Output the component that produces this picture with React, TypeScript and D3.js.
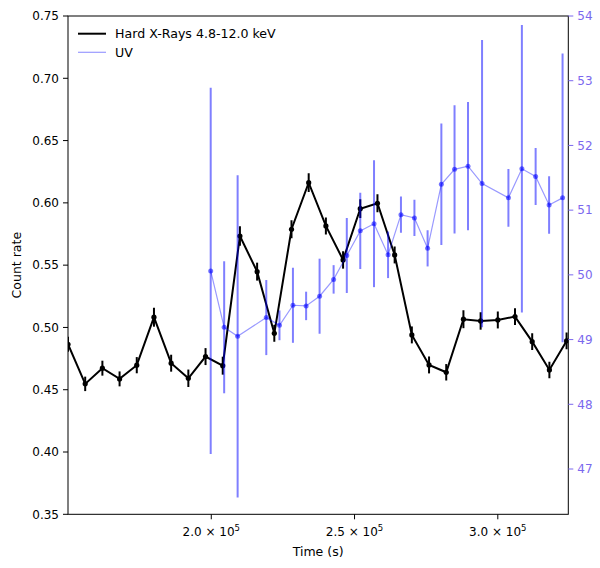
import React from "react";
import * as d3 from "d3";

const hxTime = [150000, 156000, 162000, 168000, 174000, 180000, 186000, 192000, 198000, 204000,
  210000, 216000, 222000, 228000, 234000, 240000, 246000, 252000, 258000, 264000,
  270000, 276000, 282000, 288000, 294000, 300000, 306000, 312000, 318000, 324000];
const hxRate = [0.4865, 0.4547, 0.4673, 0.4587, 0.4697, 0.5082, 0.4713, 0.4592, 0.4766, 0.4693,
  0.5734, 0.5448, 0.4953, 0.5788, 0.6162, 0.5815, 0.5542, 0.5953, 0.5997, 0.5582,
  0.4940, 0.4699, 0.4640, 0.5066, 0.5052, 0.5060, 0.5087, 0.4886, 0.4659, 0.4892];
const hxErr = [0.006, 0.0058, 0.006, 0.006, 0.0065, 0.0076, 0.0068, 0.007, 0.0068, 0.0072,
  0.0078, 0.0072, 0.0068, 0.0072, 0.0075, 0.0068, 0.007, 0.0075, 0.0072, 0.0068,
  0.0068, 0.0068, 0.0066, 0.0072, 0.007, 0.0068, 0.0068, 0.0068, 0.0066, 0.0068];

const uvTime = [199800, 204500, 209200, 219200, 223800, 228500, 233100, 237800, 242700, 247300,
  252000, 256800, 261700, 266200, 270900, 275500, 280300, 284900, 289600, 294500,
  303700, 308400, 313200, 317900, 322600];
const uvRate = [50.06, 49.19, 49.05, 49.34, 49.22, 49.53, 49.52, 49.67, 49.93, 50.30,
  50.68, 50.79, 50.31, 50.93, 50.88, 50.41, 51.40, 51.63, 51.68, 51.41,
  51.19, 51.64, 51.52, 51.08, 51.19];
const uvErr = [2.83, 1.02, 2.49, 0.58, 0.23, 0.58, 0.22, 0.58, 0.22, 0.58,
  0.59, 0.98, 0.36, 0.28, 0.28, 0.28, 0.94, 0.99, 0.99, 2.22,
  0.445, 2.22, 0.44, 0.445, 2.23];

const leftTicks = [0.35, 0.4, 0.45, 0.5, 0.55, 0.6, 0.65, 0.7, 0.75];
const rightTicks = [47, 48, 49, 50, 51, 52, 53, 54];
const xTicks = [200000, 250000, 300000];
const xTickMantissa = ["2.0", "2.5", "3.0"];
const xTickExp = "5";
const legendLabels = ["Hard X-Rays 4.8-12.0 keV", "UV"];

const W = 600, H = 568;
const L = 68, R = 568.3, T = 16, B = 514.3;
const FONT = "DejaVu Sans, sans-serif";
const RIGHT_COLOR = "#7b68ee";

export default function App() {
  const x = d3.scaleLinear().domain([150000, 324600]).range([L, R]);
  const yL = d3.scaleLinear().domain([0.35, 0.75]).range([B, T]);
  const yR = d3.scaleLinear().domain([46.3, 54]).range([B, T]);

  const hxLine = d3.line<number>().x((_, i) => x(hxTime[i])).y((d) => yL(d))(hxRate) || "";
  const uvLine = d3.line<number>().x((_, i) => x(uvTime[i])).y((d) => yR(d))(uvRate) || "";

  return (
    <svg width={W} height={H} style={{ position: "absolute", left: 0, top: 0, background: "#fff" }} fontFamily={FONT}>
      <rect x={0} y={0} width={W} height={H} fill="#fff" />
      <defs>
        <clipPath id="plot">
          <rect x={L} y={T} width={R - L} height={B - T} />
        </clipPath>
      </defs>
      <g clipPath="url(#plot)">
        {/* hard x-ray */}
        <path d={hxLine} fill="none" stroke="#000" strokeWidth={2} />
        {hxRate.map((v, i) => (
          <line key={"he" + i} x1={x(hxTime[i])} x2={x(hxTime[i])} y1={yL(v - hxErr[i])} y2={yL(v + hxErr[i])} stroke="#000" strokeWidth={2} />
        ))}
        {hxRate.map((v, i) => (
          <circle key={"hm" + i} cx={x(hxTime[i])} cy={yL(v)} r={2.6} fill="#000" />
        ))}
        {/* UV */}
        {uvRate.map((v, i) => (
          <line key={"ue" + i} x1={x(uvTime[i])} x2={x(uvTime[i])} y1={yR(v - uvErr[i])} y2={yR(v + uvErr[i])} stroke="blue" strokeOpacity={0.5} strokeWidth={2} />
        ))}
        <path d={uvLine} fill="none" stroke="blue" strokeOpacity={0.4} strokeWidth={1.2} />
        {uvRate.map((v, i) => (
          <circle key={"um" + i} cx={x(uvTime[i])} cy={yR(v)} r={2.5} fill="blue" fillOpacity={0.55} />
        ))}
      </g>

      {/* spines */}
      <rect x={L} y={T} width={R - L} height={B - T} fill="none" stroke="#000" strokeWidth={1} />

      {/* left axis */}
      {leftTicks.map((t) => (
        <g key={"lt" + t}>
          <line x1={L - 5} x2={L} y1={yL(t)} y2={yL(t)} stroke="#000" strokeWidth={1} />
          <text x={L - 9} y={yL(t)} dy="0.36em" textAnchor="end" fontSize={12} fill="#000">{t.toFixed(2)}</text>
        </g>
      ))}
      {/* right axis */}
      {rightTicks.map((t) => (
        <g key={"rt" + t}>
          <line x1={R} x2={R + 5} y1={yR(t)} y2={yR(t)} stroke={RIGHT_COLOR} strokeWidth={1} />
          <text x={R + 9} y={yR(t)} dy="0.36em" textAnchor="start" fontSize={12} fill={RIGHT_COLOR}>{t}</text>
        </g>
      ))}
      {/* x axis */}
      {xTicks.map((t, i) => (
        <g key={"xt" + t}>
          <line x1={x(t)} x2={x(t)} y1={B} y2={B + 5} stroke="#000" strokeWidth={1} />
          <text x={x(t)} y={B + 22} textAnchor="middle" fontSize={12} fill="#000">
            {xTickMantissa[i] + " × 10"}
            <tspan dy={-5} fontSize={8.5}>{xTickExp}</tspan>
          </text>
        </g>
      ))}
      <text x={(L + R) / 2} y={B + 41.5} textAnchor="middle" fontSize={12.5} fill="#000">Time (s)</text>
      <text transform={`translate(21,${(T + B) / 2}) rotate(-90)`} textAnchor="middle" fontSize={12.5} fill="#000">Count rate</text>

      {/* legend */}
      <line x1={78} x2={106} y1={33.7} y2={33.7} stroke="#000" strokeWidth={2} />
      <text x={115} y={33.7} dy="0.36em" fontSize={12.6} fill="#000">{legendLabels[0]}</text>
      <line x1={78} x2={106} y1={52.3} y2={52.3} stroke="blue" strokeOpacity={0.4} strokeWidth={1.2} />
      <text x={115} y={52.3} dy="0.36em" fontSize={12.6} fill="#000">{legendLabels[1]}</text>
    </svg>
  );
}
